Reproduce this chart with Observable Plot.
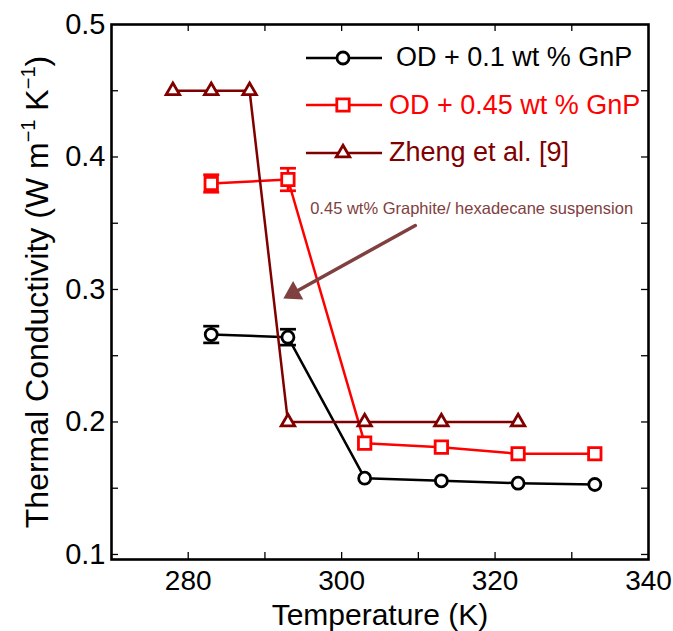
<!DOCTYPE html>
<html><head><meta charset="utf-8">
<script src="https://cdn.jsdelivr.net/npm/d3@7"></script>
<script src="https://cdn.jsdelivr.net/npm/@observablehq/plot@0.6"></script>
<style>
body{margin:0;background:#fff;font-family:"Liberation Sans",Arial,sans-serif;}
#wrap{position:relative;width:673px;height:631px;overflow:hidden;}
.leg{position:absolute;display:flex;align-items:center;height:40px;font-size:27px;white-space:nowrap;line-height:1;}
.leg svg{flex:none;display:block}
</style></head><body><div id="wrap"></div>
<script>
// ---- data ----
const temps01 = [283, 293, 303, 313, 323, 333];
const k01     = [0.266, 0.264, 0.1576, 0.1556, 0.1538, 0.1528];
const err01   = [0.0063, 0.006, 0, 0, 0, 0];

const temps045 = [283, 293, 303, 313, 323, 333];
const k045     = [0.380, 0.383, 0.184, 0.181, 0.176, 0.176];
const err045   = [0.0066, 0.0085, 0, 0, 0, 0];

const tempsZheng = [278, 283, 288, 293, 303, 313, 323];
const kZheng     = [0.45, 0.45, 0.45, 0.20, 0.20, 0.20, 0.20];

const xTickLabels = [280, 300, 320, 340];
const xTicksAll   = [280, 290, 300, 310, 320, 330];
const yTickLabels = [0.1, 0.2, 0.3, 0.4, 0.5];
const yTicksAll   = [0.1, 0.15, 0.2, 0.25, 0.3, 0.35, 0.4, 0.45];

const legendLabels  = ["OD + 0.1 wt % GnP", "OD + 0.45 wt % GnP", "Zheng et al. [9]"];
const legendColors  = ["#000000", "#ff0000", "#800000"];
const legendSymbols = ["circle", "square", "triangle"];

const annotText = ["0.45 wt% Graphite/ hexadecane suspension"];
const annotTextX = [295.9], annotTextY = [0.3611];
const arrowX1 = [309.6], arrowY1 = [0.3483], arrowX2 = [292.4], arrowY2 = [0.2932];

// ---- layout ----
const W = 673, H = 631, ML = 111, MR = 25, MT = 24, MB = 72;
const PW = W - ML - MR, PH = H - MT - MB, TICK = 7;
const X_DOMAIN = [270, 340], Y_DOMAIN = [0.0962, 0.5];
const ANNOT = "#804040";

const rows = (ts, ks, es) => ts.map((t, i) => ({t, k: ks[i], e: es ? es[i] : 0}));
const s01 = rows(temps01, k01, err01);
const s045 = rows(temps045, k045, err045);
const sZ = rows(tempsZheng, kZheng);
const annot = annotText.map((text, i) => ({text, x: annotTextX[i], y: annotTextY[i],
  x1: arrowX1[i], y1: arrowY1[i], x2: arrowX2[i], y2: arrowY2[i]}));

const capSymbol = {draw(ctx, size) { const w = Math.sqrt(size / Math.PI); ctx.moveTo(-w, 0); ctx.lineTo(w, 0); }};
const headSymbol = {draw(ctx) { ctx.moveTo(0, 0); ctx.lineTo(-10.5, 17); ctx.lineTo(10.5, 17); ctx.closePath(); }};

// arrow head rotation from the same scale configuration
const xs = d3.scaleLinear(X_DOMAIN, [ML, W - MR]);
const ys = d3.scaleLinear(Y_DOMAIN, [H - MB, MT]);
const headAngle = (d) => {
  const dx = xs(d.x2) - xs(d.x1), dy = ys(d.y2) - ys(d.y1);
  return Math.atan2(dx, -dy) * 180 / Math.PI;
};

function series(data, color, symbol, r) {
  const err = data.filter(d => d.e > 0);
  return [
    Plot.line(data, {x: "t", y: "k", stroke: color, strokeWidth: 2.5}),
    Plot.ruleX(err, {x: "t", y1: d => d.k - d.e, y2: d => d.k + d.e, stroke: color, strokeWidth: 2.5}),
    Plot.dot(err, {x: "t", y: d => d.k + d.e, r: 8, symbol: capSymbol, fill: "none", stroke: color, strokeWidth: 2.7}),
    Plot.dot(err, {x: "t", y: d => d.k - d.e, r: 8, symbol: capSymbol, fill: "none", stroke: color, strokeWidth: 2.7}),
    Plot.dot(data, {x: "t", y: "k", r, symbol, fill: "white", stroke: color, strokeWidth: 2.8})
  ];
}

const chart = Plot.plot({
  width: W, height: H,
  marginLeft: ML, marginRight: MR, marginTop: MT, marginBottom: MB,
  x: {domain: X_DOMAIN},
  y: {domain: Y_DOMAIN},
  style: {fontFamily: '"Liberation Sans", Arial, sans-serif', background: "white", color: "black"},
  marks: [
    Plot.tickX(xTicksAll, {x: d => d, insetTop: PH - TICK, stroke: "black", strokeWidth: 1.3}),
    Plot.tickX(xTicksAll, {x: d => d, insetBottom: PH - TICK, stroke: "black", strokeWidth: 1.3}),
    Plot.tickY(yTicksAll, {y: d => d, insetRight: PW - TICK, stroke: "black", strokeWidth: 1.3}),
    Plot.tickY(yTicksAll, {y: d => d, insetLeft: PW - TICK, stroke: "black", strokeWidth: 1.3}),
    Plot.axisX({ticks: xTickLabels, tickSize: 0, tickPadding: 11, fontSize: 28, label: null, tickFormat: d => String(d)}),
    Plot.axisY({ticks: yTickLabels, tickSize: 0, tickPadding: 6, fontSize: 29, label: null, tickFormat: d3.format(".1f")}),
    Plot.axisX({ticks: [], tickSize: 0, label: "Temperature (K)", labelAnchor: "center", labelOffset: 65, labelArrow: "none", fontSize: 30}),
    Plot.axisY({ticks: [], tickSize: 0, label: "Thermal Conductivity (W m\u207B\u00B9 K\u207B\u00B9)", labelAnchor: "center", labelOffset: 86, labelArrow: "none", fontSize: 32}),
    ...series(s01, legendColors[0], legendSymbols[0], 6),
    ...series(s045, legendColors[1], legendSymbols[1], 7),
    ...series(sZ, legendColors[2], legendSymbols[2], 5),
    Plot.arrow(annot, {x1: "x1", y1: "y1", x2: "x2", y2: "y2", stroke: ANNOT, strokeWidth: 3.5, headLength: 0, insetEnd: 12}),
    Plot.dot(annot, {x: "x2", y: "y2", symbol: headSymbol, r: 5, fill: ANNOT, stroke: "none", rotate: headAngle(annot[0])}),
    Plot.text(annot, {x: "x", y: "y", text: "text", textAnchor: "start", fill: ANNOT, fontSize: 16.5}),
    Plot.frame({stroke: "black", strokeWidth: 2.6})
  ]
});

const wrap = document.getElementById("wrap");
wrap.appendChild(chart);

// superscripts in the y label
const yl = chart.querySelector('g[aria-label="y-axis label"] text');
if (yl) {
  const parts = [["Thermal Conductivity (W m", 0], ["\u22121", 1], [" K", 0], ["\u22121", 1], [")", 0]];
  yl.textContent = "";
  let prevSup = 0;
  for (const [s, sup] of parts) {
    const ts = document.createElementNS("http://www.w3.org/2000/svg", "tspan");
    ts.textContent = s;
    if (sup) { ts.setAttribute("font-size", "20"); ts.setAttribute("dy", "-13"); }
    else if (prevSup) { ts.setAttribute("dy", "13"); }
    prevSup = sup;
    yl.appendChild(ts);
  }
}

// legend (HTML overlay inside the axes box)
const legendTop = [57.5, 105, 152.5];
const legendGap = [14, 7, 7];
legendLabels.forEach((lab, i) => {
  const row = document.createElement("div");
  row.className = "leg";
  row.style.left = "306px";
  row.style.top = (legendTop[i] - 20) + "px";
  row.style.color = legendColors[i];
  const r = [6, 7, 5][i];
  const sym = d3.symbol(d3["symbol" + legendSymbols[i][0].toUpperCase() + legendSymbols[i].slice(1)], Math.PI * r * r)();
  row.innerHTML = `<svg width="76" height="40" style="margin-right:${legendGap[i]}px">
    <line x1="0" x2="76" y1="20" y2="20" stroke="${legendColors[i]}" stroke-width="2.5"/>
    <path d="${sym}" transform="translate(37,20)" fill="white" stroke="${legendColors[i]}" stroke-width="2.8"/>
  </svg><span>${lab}</span>`;
  wrap.appendChild(row);
});
</script></body></html>
